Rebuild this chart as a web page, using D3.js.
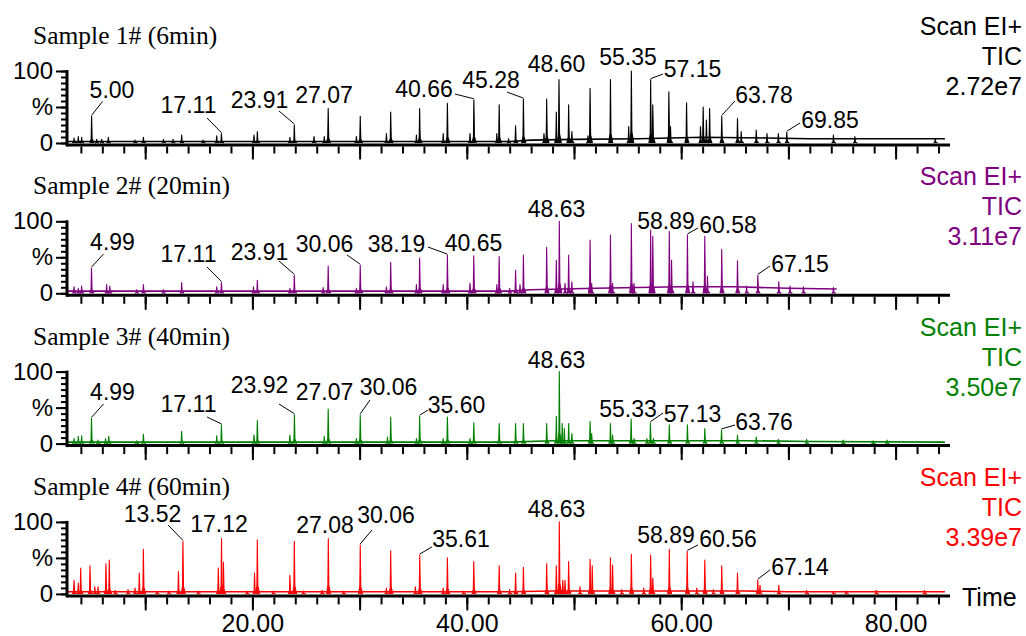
<!DOCTYPE html>
<html>
<head>
<meta charset="utf-8">
<script src="https://cdn.jsdelivr.net/npm/d3@7"></script>
<style>
body { margin: 0; background: #fff; }
svg { display: block; }
text { font-family: "Liberation Sans", Arial, sans-serif; }
</style>
</head>
<body>
<svg id="chart" width="1026" height="636"></svg>
<script>
const sampleNames = ['Sample 1# (6min)', 'Sample 2# (20min)', 'Sample 3# (40min)', 'Sample 4# (60min)'];
const ticValues = ['2.72e7', '3.11e7', '3.50e7', '3.39e7'];
const traceColors = ['#000000', '#800080', '#008000', '#ff0000'];
const runEnd = [84.6, 74.5, 84.6, 84.6];
const timeTicks = [20, 40, 60, 80];

// main peaks: [retention time (min), relative abundance (%)]
const peaks1 = [[5.00, 37], [17.11, 13], [20.46, 16], [23.91, 25], [27.07, 48], [30.06, 37], [32.90, 43],
    [35.60, 48], [38.19, 55], [40.66, 60], [43.02, 53], [44.55, 24], [45.28, 61], [47.45, 61], [48.35, 43],
    [48.60, 88], [49.50, 53], [51.50, 76], [53.40, 88], [55.35, 100], [57.15, 88], [57.35, 53], [58.85, 71],
    [60.50, 56], [62.05, 50], [62.65, 48], [63.78, 37], [65.25, 34], [69.85, 15]];
const peaks2 = [[4.99, 35], [17.11, 15], [20.46, 18], [23.91, 25], [27.07, 38], [30.06, 39], [32.90, 43],
    [35.60, 49], [38.19, 53], [40.65, 52], [43.02, 51], [44.55, 32], [45.28, 53], [47.45, 64], [48.35, 46],
    [48.63, 100], [49.50, 53], [51.50, 74], [53.40, 81], [55.35, 97], [57.15, 88], [57.35, 79], [58.89, 86],
    [59.10, 46], [60.58, 81], [62.20, 79], [63.78, 61], [65.25, 45], [67.15, 25], [69.10, 16]];
const peaks3 = [[4.99, 35], [17.11, 26], [20.46, 32], [23.92, 40], [27.07, 48], [30.06, 40], [32.90, 37],
    [35.60, 38], [38.19, 37], [40.65, 29], [43.02, 28], [44.55, 28], [45.28, 28], [47.45, 28], [48.35, 38],
    [48.63, 100], [48.90, 28], [49.10, 21], [49.50, 28], [51.50, 31], [53.40, 28], [55.33, 34], [57.13, 29],
    [58.89, 26], [60.58, 26], [62.20, 21], [63.76, 19], [65.25, 12]];
const peaks4 = [[3.36, 19], [3.76, 15], [3.98, 36], [4.85, 39], [6.34, 42], [6.65, 47], [9.45, 29], [9.83, 62],
    [13.10, 31], [13.52, 73], [16.82, 36], [17.12, 77], [17.30, 44], [20.20, 29], [20.46, 75], [23.50, 26],
    [23.91, 73], [27.08, 77], [30.06, 68], [32.90, 60], [35.61, 54], [38.19, 50], [40.65, 45], [43.02, 39],
    [44.55, 29], [45.28, 37], [47.45, 42], [48.35, 39], [48.63, 100], [48.95, 19], [49.50, 45], [51.50, 48],
    [51.70, 39], [53.40, 50], [53.60, 40], [55.35, 55], [57.15, 54], [57.35, 22], [58.89, 62], [60.56, 59],
    [62.20, 47], [63.78, 39], [65.25, 29], [67.14, 19], [69.10, 12]];

// small peaks and noise
const noise1 = [[3.36, 7], [3.76, 9], [4.07, 8], [5.47, 5], [5.94, 5], [6.56, 8], [9.05, 4], [9.83, 8], [11.7, 5],
    [12.6, 5], [13.4, 11], [15.4, 4], [16.67, 10], [20.15, 11], [23.5, 8], [25.75, 9], [26.7, 9], [29.7, 9],
    [32.5, 13], [35.3, 11], [37.8, 13], [40.3, 13], [42.8, 13], [43.9, 6], [47.2, 13], [49.8, 16], [51.3, 10],
    [55.1, 23], [59.0, 23], [61.8, 23], [62.35, 32], [65.6, 16], [67.0, 18], [68.0, 13], [69.06, 13], [74.2, 11],
    [76.2, 9], [83.7, 6]];
const noise2 = [[3.36, 9], [3.76, 7], [4.07, 10], [6.4, 12], [6.7, 10], [9.2, 5], [9.83, 12], [11.7, 5], [13.4, 15],
    [16.67, 9], [20.1, 9], [23.5, 7], [26.6, 8], [29.7, 7], [32.5, 9], [35.3, 12], [37.8, 12], [40.3, 14],
    [42.8, 12], [44.0, 7], [44.96, 12], [49.16, 14], [49.8, 16], [51.65, 14], [53.6, 14], [55.6, 14], [61.1, 16],
    [62.45, 24], [66.1, 10], [70.15, 10], [71.4, 9], [74.2, 8]];
const noise3 = [[3.36, 7], [3.76, 10], [4.07, 11], [5.6, 5], [6.3, 7], [6.6, 10], [9.2, 4], [9.83, 13], [13.4, 17],
    [16.67, 11], [20.15, 12], [23.5, 12], [26.7, 10], [29.7, 7], [32.6, 9], [35.3, 7], [37.8, 7], [40.3, 7],
    [49.8, 14], [51.65, 14], [53.6, 12], [55.6, 7], [56.8, 7], [57.4, 7], [67.0, 9], [69.06, 6], [71.7, 6],
    [75.1, 5], [77.9, 4], [79.2, 5]];
const noise4 = [[5.3, 10], [5.6, 10], [7.2, 5], [8.4, 6], [9.05, 8], [11.1, 4], [12.2, 4], [14.95, 4], [19.5, 4],
    [21.95, 4], [24.75, 4], [26.5, 5], [28.5, 4], [32.5, 8], [35.2, 10], [37.8, 8], [39.7, 4], [44.0, 6],
    [49.16, 19], [50.56, 10], [54.45, 6], [56.5, 8], [61.45, 8], [63.0, 6], [67.35, 12], [71.7, 5], [74.2, 3],
    [75.4, 4], [78.2, 5], [82.7, 5]];

// baseline level along the run
const base1 = [[2.8, 2], [44, 2], [46, 4], [50, 5], [56, 6], [62, 8], [68, 7], [72, 6], [84.6, 6]];
const base2 = [[2.8, 3], [44, 3], [46, 5], [52, 7], [60, 9], [65, 9], [70, 7], [74.5, 6]];
const base3 = [[2.8, 2], [44, 2], [48, 4], [66, 4], [72, 3], [84.6, 2]];
const base4 = [[2.8, 3], [44, 3], [48, 4], [66, 4], [70, 3], [84.6, 3]];

// labelled retention times
const labels1 = ['5.00', '17.11', '23.91', '27.07', '40.66', '45.28', '48.60', '55.35', '57.15', '63.78', '69.85'];
const labels2 = ['4.99', '17.11', '23.91', '30.06', '38.19', '40.65', '48.63', '58.89', '60.58', '67.15'];
const labels3 = ['4.99', '17.11', '23.92', '27.07', '30.06', '35.60', '48.63', '55.33', '57.13', '63.76'];
const labels4 = ['13.52', '17.12', '27.08', '30.06', '35.61', '48.63', '58.89', '60.56', '67.14'];

// label placement relative to peak tip: [text dx, text dy, leader dx, leader dy]
const labelLayout = [
    [[20.4, -18.4, 11, -15], [-32.9, -20.6, -14.4, -15.6], [-34.8, -17, -15.3, -14], [-4.2, -5.4],
        [-49.9, -2.8, -18.9, -5.8], [-32.4, -11, -16.4, -7], [-2.5, -7.6], [-3.4, -6],
        [41.9, -2.6, 12.4, -5.6], [42.3, -13.4, 13.3, -15.4], [43.2, -4.2, 13.2, -9.2]],
    [[21, -18.1, 12, -14.1], [-32.9, -20.5, -14.4, -15.5], [-34.8, -15.3, -15.3, -14.3],
        [-35.7, -13.2, -13.2, -10.2], [-50.9, -3.1, -19.4, -8.1], [-0.3, -4.9], [-2.8, -4.3], [-3.3, -2.4],
        [40.6, -2, 10.6, -7], [42.2, -3.3, 12.2, -9.3]],
    [[21, -18.4, 12, -14.4], [-32.9, -12.9, -14.4, -7.9], [-34.9, -21.8, -15.4, -10.8], [-3.7, -9],
        [28.3, -19.8, 9.8, -14.8], [36.9, -3.2, 8.4, -6.2], [-2.8, -3.6], [-3.1, -2.1],
        [42.1, -0.7, 12.6, -9.7], [42.5, 0.1, 13.5, -4.9]],
    [[-30.4, -19.4, -14.9, -16.4], [-2.5, -6.6], [-3.3, -5.6], [25.8, -22, 11.8, -15],
        [41.3, -8.1, 12.3, -8.1], [-2.8, -5], [-3.3, -6.4], [40.8, -4.5, 10.8, -6.5], [42.2, -5.3, 12.2, -10.3]]
];

const peakSets = [peaks1, peaks2, peaks3, peaks4];
const noiseSets = [noise1, noise2, noise3, noise4];
const baseSets = [base1, base2, base3, base4];
const labelSets = [labels1, labels2, labels3, labels4];

const PANEL_BASE = 143;
const PANEL_STEP = 150.3;
const PANEL_H = 72;
const AXIS_X0 = 67;
const AXIS_X1 = 950;

const svg = d3.select('#chart');
const x = d3.scaleLinear().domain([0, 80]).range([38, 895.6]);

// narrow spike glyph for one peak
const peakShape = (rt, h) => [[rt - 0.16, 0], [rt - 0.04, h * 0.15], [rt, h], [rt + 0.05, h * 0.15], [rt + 0.22, 0]];

function drawPanel (i) {
    const base = PANEL_BASE + PANEL_STEP * i;
    const color = traceColors[i];
    const y = d3.scaleLinear().domain([0, 100]).range([base, base - PANEL_H]);
    const g = svg.append('g').attr('class', 'panel');
    const line = d3.line().x((d) => x(d[0])).y((d) => y(d[1]));

    g.append('text')
        .attr('x', 33)
        .attr('y', 44 + PANEL_STEP * i)
        .style('font-family', '"Liberation Serif", "Times New Roman", serif')
        .style('font-size', '25.5px')
        .text(sampleNames[i]);

    const info = g.append('g')
        .attr('fill', color)
        .style('font-size', '25px')
        .attr('text-anchor', 'end');
    ['Scan EI+', 'TIC', ticValues[i]].forEach((s, k) => {
        info.append('text')
            .attr('x', 1022)
            .attr('y', 35 + PANEL_STEP * i + 30 * k)
            .text(s);
    });

    // trace
    g.append('path')
        .datum(baseSets[i].filter((d) => d[0] <= runEnd[i]))
        .attr('d', line)
        .attr('fill', 'none')
        .attr('stroke', color)
        .attr('stroke-width', 1.6);

    g.selectAll('.peak')
        .data(noiseSets[i].concat(peakSets[i]))
        .join('path')
        .attr('class', 'peak')
        .attr('d', (d) => line(peakShape(d[0], d[1])))
        .attr('fill', color)
        .attr('stroke', color)
        .attr('stroke-width', 1.1)
        .attr('stroke-linejoin', 'round');

    // x axis
    g.append('line')
        .attr('x1', AXIS_X0)
        .attr('x2', AXIS_X1)
        .attr('y1', base + 2)
        .attr('y2', base + 2)
        .attr('stroke', '#000')
        .attr('stroke-width', 3);

    const minorX = g.append('g')
        .attr('transform', `translate(0,${base + 3.5})`)
        .call(d3.axisBottom(x).tickValues(d3.range(4, 85, 2)).tickSize(7).tickFormat(''));
    const majorX = g.append('g')
        .attr('transform', `translate(0,${base + 3.5})`)
        .call(d3.axisBottom(x).tickValues(d3.range(10, 81, 10)).tickSize(13).tickPadding(4)
            .tickFormat((d) => (i === 3 && timeTicks.includes(d)) ? d3.format('.2f')(d) : ''));

    // y axis
    g.append('line')
        .attr('x1', AXIS_X0)
        .attr('x2', AXIS_X0)
        .attr('y1', y(100) - 1)
        .attr('y2', base + 3.5)
        .attr('stroke', '#000')
        .attr('stroke-width', 3);

    const minorY = g.append('g')
        .attr('transform', `translate(${AXIS_X0},0)`)
        .call(d3.axisLeft(y).tickValues(d3.range(0, 100.1, 100 / 12)).tickSize(6).tickFormat(''));
    const majorY = g.append('g')
        .attr('transform', `translate(${AXIS_X0},0)`)
        .call(d3.axisLeft(y).tickValues([0, 50, 100]).tickSize(11).tickPadding(3)
            .tickFormat((d) => d === 50 ? '%' : String(d)));

    [minorX, majorX, minorY, majorY].forEach((a) => {
        a.select('.domain').remove();
        a.attr('font-size', null).attr('font-family', null);
        a.selectAll('.tick line').attr('stroke', '#000').attr('stroke-width', 2);
        a.selectAll('.tick text').attr('fill', '#000').style('font-size', '24px');
    });
    majorX.selectAll('.tick text').style('font-size', '25px').attr('dy', '0.71em');

    // peak labels
    labelSets[i].forEach((txt, k) => {
        const pk = peakSets[i].find((p) => p[0] === +txt);
        const [dx, dy, lx, ly] = labelLayout[i][k];
        const tx = x(pk[0]);
        const ty = y(pk[1]);
        if (lx !== undefined) {
            g.append('line')
                .attr('x1', tx)
                .attr('y1', ty - 1)
                .attr('x2', tx + lx)
                .attr('y2', ty + ly)
                .attr('stroke', '#000')
                .attr('stroke-width', 1);
        }
        g.append('text')
            .attr('x', tx + dx)
            .attr('y', ty + dy)
            .attr('text-anchor', 'middle')
            .style('font-size', '23px')
            .text(txt);
    });
}

d3.range(4).forEach(drawPanel);

svg.append('text')
    .attr('x', 962)
    .attr('y', 606)
    .style('font-size', '25px')
    .text('Time');
</script>
</body>
</html>
